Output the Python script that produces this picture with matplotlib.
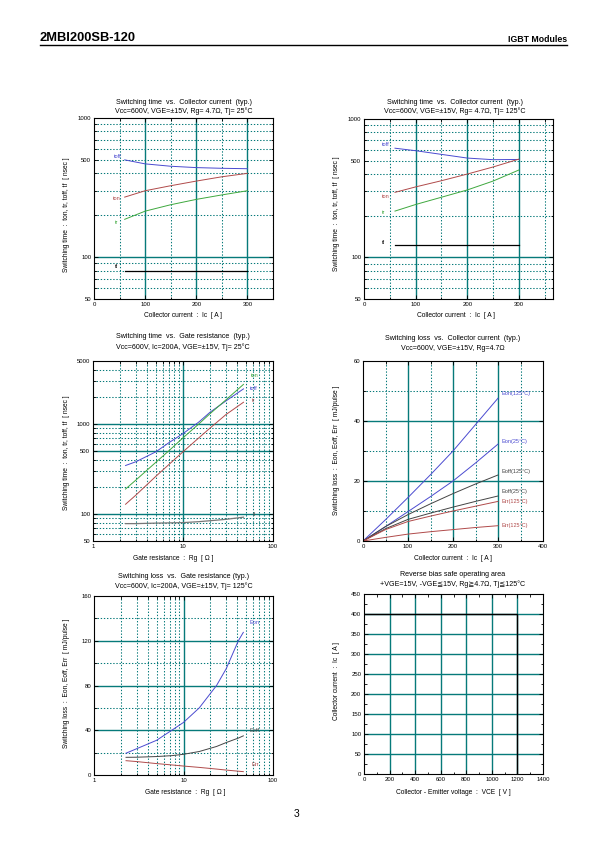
import matplotlib
matplotlib.use("Agg")
import matplotlib.pyplot as plt
from matplotlib.ticker import FixedLocator, NullFormatter

plt.rcParams['font.family'] = ['Liberation Sans', 'DejaVu Sans']

# ---------------- data ----------------
# Panel 1: switching time vs Ic, Tj=25C
ic1 = [60, 100, 150, 200, 250, 300]
toff1 = [500, 468, 450, 440, 435, 432]
ton1 = [270, 300, 326, 352, 378, 400]
tr1 = [187, 214, 238, 260, 280, 300]
tf1 = [79, 79, 79, 79, 79, 79]

# Panel 2: switching time vs Ic, Tj=125C
ic2 = [60, 100, 150, 200, 250, 300]
toff2 = [615, 590, 555, 522, 508, 510]
ton2 = [295, 323, 358, 400, 450, 513]
tr2 = [216, 241, 272, 307, 356, 428]
tf2 = [122, 122, 122, 122, 122, 122]

# Panel 3: switching time vs Rg
rg3 = [2.3, 3, 5, 7, 10, 15, 20, 30, 47]
toff3 = [345, 380, 490, 620, 780, 1050, 1350, 1800, 2450]
ton3 = [189, 238, 375, 505, 700, 1000, 1300, 1850, 2750]
tr3 = [128, 162, 262, 355, 490, 700, 900, 1270, 1740]
tf3 = [78, 78, 79, 79.5, 80, 82, 84, 87, 92]

# Panel 4: switching loss vs Ic
ic4 = [0, 50, 100, 150, 200, 250, 300]
eon125_4 = [0, 7.1, 14.5, 22.1, 30, 38.8, 47.6]
eon25_4 = [0, 4.8, 9.8, 14.8, 20, 26, 32.3]
eoff125_4 = [0, 4.8, 8.8, 12.4, 15.8, 19, 22]
eoff25_4 = [0, 4.1, 7.2, 9.3, 11.3, 13.2, 15]
err125_4 = [0, 3.8, 6.5, 8.3, 10, 11.6, 13.2]
err25_4 = [0, 1.2, 2.3, 3.1, 3.8, 4.5, 5.1]

# Panel 5: switching loss vs Rg
rg5 = [2.28, 3, 5, 7.4, 10, 15, 23.4, 30, 41, 46.6]
eon5 = [19.5, 23.5, 31, 40, 47, 60, 80, 95, 120, 127.5]
eoff5 = [15.8, 15.9, 16.5, 17.3, 18.5, 21, 25.5, 29, 33, 35]
err5 = [12.8, 12, 10.2, 9, 8, 6.8, 5.3, 4.4, 3.4, 3]

# Panel 6: RBSOA
vce6 = [0, 1200, 1200]
ic6 = [400, 400, 0]

# ---------------- styling ----------------
W, H = 595, 842
TEAL = '#067a7a'
BLUE = '#4a4ad0'
RED = '#b04a4a'
GREEN = '#3ea83e'
GRAY = '#444444'
TS = 5.1     # title size
TKS = 4.3    # tick label size
LS = 4.8     # axis label size
CS = 4.0     # curve label size
DOT = (0, (1.3, 1.7))

fig = plt.figure(figsize=(W / 100, H / 100), dpi=100)


def add_ax(l, t, r, b):
    return fig.add_axes([l / W, 1 - b / H, (r - l) / W, (b - t) / H])


def ftext(x, y, s, **kw):
    fig.text(x / W, 1 - y / H, s, **kw)


def grid(ax, xmaj, xmin, ymaj, ymin):
    for v in xmaj:
        ax.axvline(v, color=TEAL, lw=1.0, zorder=1)
    for v in xmin:
        ax.axvline(v, color=TEAL, lw=0.75, ls=DOT, zorder=1)
    for v in ymaj:
        ax.axhline(v, color=TEAL, lw=1.0, zorder=1)
    for v in ymin:
        ax.axhline(v, color=TEAL, lw=0.75, ls=DOT, zorder=1)


def style(ax, xt, xtl, yt, ytl, xminor=(), yminor=()):
    ax.set_xticks(xt)
    ax.set_xticklabels(xtl)
    ax.set_yticks(yt)
    ax.set_yticklabels(ytl)
    ax.xaxis.set_minor_locator(FixedLocator(list(xminor)))
    ax.yaxis.set_minor_locator(FixedLocator(list(yminor)))
    ax.xaxis.set_minor_formatter(NullFormatter())
    ax.yaxis.set_minor_formatter(NullFormatter())
    ax.tick_params(which='both', direction='in', top=True, right=True,
                   labelsize=TKS, pad=2, width=0.6, color='black')
    ax.tick_params(which='major', length=3)
    ax.tick_params(which='minor', length=1.8)
    for s in ax.spines.values():
        s.set_linewidth(0.8)
        s.set_color('black')
        s.set_zorder(5)


def titles(cx, y1, l1, y2, l2):
    ftext(cx, y1, l1, fontsize=TS, ha='center', va='center')
    ftext(cx, y2, l2, fontsize=TS, ha='center', va='center')


# header
ftext(40, 41, '2MBI200SB-120', fontsize=9.3, fontweight='bold',
      ha='left', va='baseline')
ftext(567, 42, 'IGBT Modules', fontsize=6.3, fontweight='bold', ha='right', va='baseline')
fig.add_artist(plt.Line2D([40 / W, 567 / W], [1 - 44.5 / H, 1 - 44.5 / H], color='black', lw=1.0))
ftext(297, 814, '3', fontsize=7.5, ha='center', va='center')

ylab_t = 'Switching time  :  ton, tr, toff, tf  [ nsec ]'
ylab_e = 'Switching loss  :  Eon, Eoff, Err  [ mJ/pulse ]'
xlab_ic = 'Collector current  :  Ic  [ A ]'
xlab_rg = 'Gate resistance  :  Rg  [ \u03a9 ]'

log_minor_50_1000 = [60, 70, 80, 90, 200, 300, 400, 600, 700, 800, 900]

# ---------------- Panel 1 ----------------
ax = add_ax(94, 118, 273, 299)
ax.set_yscale('log')
ax.set_xlim(0, 350)
ax.set_ylim(50, 1000)
grid(ax, [100, 200, 300], [50, 150, 250, 350], [100], log_minor_50_1000 + [500])
ax.plot(ic1, toff1, color=BLUE, lw=0.7, zorder=3)
ax.plot(ic1, ton1, color=RED, lw=0.7, zorder=3)
ax.plot(ic1, tr1, color=GREEN, lw=0.7, zorder=3)
ax.plot(ic1, tf1, color='black', lw=0.9, zorder=3)
style(ax, [0, 100, 200, 300], ['0', '100', '200', '300'], [50, 100, 500, 1000],
      ['50', '100', '500', '1000'], [50, 150, 250], log_minor_50_1000)
titles(183.5, 103, 'Switching time  vs.  Collector current  (typ.)',
       111.5, 'Vcc=600V, VGE=\u00b115V, Rg= 4.7\u03a9, Tj= 25\u00b0C')
ftext(183, 316, xlab_ic, fontsize=LS, ha='center', va='center')
ftext(67, 215, ylab_t, fontsize=LS, ha='center', va='center', rotation=90)
ftext(114, 156, 'toff', fontsize=CS, color=BLUE, va='center')
ftext(113, 199, 'ton', fontsize=CS, color=RED, va='center')
ftext(115, 223, 'tr', fontsize=CS, color=GREEN, va='center')
ftext(115, 266, 'tf', fontsize=CS, color='black', va='center')

# ---------------- Panel 2 ----------------
ax = add_ax(364, 119, 553, 299)
ax.set_yscale('log')
ax.set_xlim(0, 366)
ax.set_ylim(50, 1000)
grid(ax, [100, 200, 300], [50, 150, 250, 350], [100], log_minor_50_1000 + [500])
ax.plot(ic2, toff2, color=BLUE, lw=0.7, zorder=3)
ax.plot(ic2, ton2, color=RED, lw=0.7, zorder=3)
ax.plot(ic2, tr2, color=GREEN, lw=0.7, zorder=3)
ax.plot(ic2, tf2, color='black', lw=0.9, zorder=3)
style(ax, [0, 100, 200, 300], ['0', '100', '200', '300'], [50, 100, 500, 1000],
      ['50', '100', '500', '1000'], [50, 150, 250, 350], log_minor_50_1000)
titles(455, 103, 'Switching time  vs.  Collector current  (typ.)',
       111.5, 'Vcc=600V, VGE=\u00b115V, Rg= 4.7\u03a9, Tj= 125\u00b0C')
ftext(456, 316, xlab_ic, fontsize=LS, ha='center', va='center')
ftext(337, 214, ylab_t, fontsize=LS, ha='center', va='center', rotation=90)
ftext(382, 145, 'toff', fontsize=CS, color=BLUE, va='center')
ftext(382, 196, 'ton', fontsize=CS, color=RED, va='center')
ftext(382, 212, 'tr', fontsize=CS, color=GREEN, va='center')
ftext(382, 243, 'tf', fontsize=CS, color='black', va='center')

# ---------------- Panel 3 ----------------
log_x_minor = [2, 3, 4, 5, 6, 7, 8, 9, 20, 30, 40, 50, 60, 70, 80, 90]
ax = add_ax(93, 361, 273, 541)
ax.set_xscale('log')
ax.set_yscale('log')
ax.set_xlim(1, 100)
ax.set_ylim(50, 5000)
grid(ax, [10], log_x_minor, [100, 500, 1000],
     [60, 70, 80, 90, 200, 300, 400, 600, 700, 800, 900, 2000, 3000, 4000])
ax.plot(rg3, toff3, color=BLUE, lw=0.7, zorder=3)
ax.plot(rg3, ton3, color=GREEN, lw=0.7, zorder=3)
ax.plot(rg3, tr3, color=RED, lw=0.7, zorder=3)
ax.plot(rg3, tf3, color='#777777', lw=0.9, zorder=3)
style(ax, [1, 10, 100], ['1', '10', '100'], [50, 100, 500, 1000, 5000],
      ['50', '100', '500', '1000', '5000'], log_x_minor,
      [60, 70, 80, 90, 200, 300, 400, 600, 700, 800, 900, 2000, 3000, 4000])
titles(183, 337, 'Switching time  vs.  Gate resistance  (typ.)',
       347, 'Vcc=600V, Ic=200A, VGE=\u00b115V, Tj= 25\u00b0C')
ftext(173, 558, xlab_rg, fontsize=LS, ha='center', va='center')
ftext(67, 453, ylab_t, fontsize=LS, ha='center', va='center', rotation=90)
ftext(251, 376, 'ton', fontsize=CS, color=GREEN, va='center')
ftext(250, 388, 'toff', fontsize=CS, color=BLUE, va='center')
ftext(252, 400, 'tr', fontsize=CS, color=RED, va='center')
ftext(253, 514, 'tf', fontsize=CS, color='#555555', va='center')

# ---------------- Panel 4 ----------------
ax = add_ax(363, 361, 543, 541)
ax.set_xlim(0, 400)
ax.set_ylim(0, 60)
grid(ax, [100, 200, 300], [50, 150, 250, 350], [20, 40], [10, 30, 50])
ax.plot(ic4, eon125_4, color=BLUE, lw=0.7, zorder=3)
ax.plot(ic4, eon25_4, color=BLUE, lw=0.7, zorder=3)
ax.plot(ic4, eoff125_4, color=GRAY, lw=0.7, zorder=3)
ax.plot(ic4, eoff25_4, color=GRAY, lw=0.7, zorder=3)
ax.plot(ic4, err125_4, color=RED, lw=0.7, zorder=3)
ax.plot(ic4, err25_4, color=RED, lw=0.7, zorder=3)
style(ax, [0, 100, 200, 300, 400], ['0', '100', '200', '300', '400'],
      [0, 20, 40, 60], ['0', '20', '40', '60'], [50, 150, 250, 350], [10, 30, 50])
titles(453, 339, 'Switching loss  vs.  Collector current  (typ.)',
       349, 'Vcc=600V, VGE=\u00b115V, Rg=4.7\u03a9')
ftext(453, 558, xlab_ic, fontsize=LS, ha='center', va='center')
ftext(336, 450, ylab_e, fontsize=LS, ha='center', va='center', rotation=90)
ftext(501, 393, 'Eon(125\u00b0C)', fontsize=CS, color=BLUE, va='center')
ftext(501, 441, 'Eon(25\u00b0C)', fontsize=CS, color=BLUE, va='center')
ftext(501, 472, 'Eoff(125\u00b0C)', fontsize=CS, color=GRAY, va='center')
ftext(501, 491, 'Eoff(25\u00b0C)', fontsize=CS, color=GRAY, va='center')
ftext(501, 501, 'Err(125\u00b0C)', fontsize=CS, color=RED, va='center')
ftext(501, 525, 'Err(125\u00b0C)', fontsize=CS, color=RED, va='center')

# ---------------- Panel 5 ----------------
ax = add_ax(94, 596, 273, 775)
ax.set_xscale('log')
ax.set_xlim(1, 100)
ax.set_ylim(0, 160)
grid(ax, [10], log_x_minor, [40, 80, 120], [20, 60, 100, 140])
ax.plot(rg5, eon5, color=BLUE, lw=0.7, zorder=3)
ax.plot(rg5, eoff5, color=GRAY, lw=0.7, zorder=3)
ax.plot(rg5, err5, color=RED, lw=0.7, zorder=3)
style(ax, [1, 10, 100], ['1', '10', '100'], [0, 40, 80, 120, 160],
      ['0', '40', '80', '120', '160'], log_x_minor, [20, 60, 100, 140])
titles(183.5, 577, 'Switching loss  vs.  Gate resistance (typ.)',
       586, 'Vcc=600V, Ic=200A, VGE=\u00b115V, Tj= 125\u00b0C')
ftext(185, 792, xlab_rg, fontsize=LS, ha='center', va='center')
ftext(67, 683, ylab_e, fontsize=LS, ha='center', va='center', rotation=90)
ftext(249, 622, 'Eon', fontsize=CS, color=BLUE, va='center')
ftext(250, 731, 'Eoff', fontsize=CS, color=GRAY, va='center')
ftext(251, 765, 'Err', fontsize=CS, color=RED, va='center')

# ---------------- Panel 6 ----------------
ax = add_ax(364, 594, 543, 774)
ax.set_xlim(0, 1400)
ax.set_ylim(0, 450)
grid(ax, [200, 400, 600, 800, 1000, 1200], [],
     [50, 100, 150, 200, 250, 300, 350, 400], [])
ax.plot(vce6, ic6, color='black', lw=1.0, zorder=3)
style(ax, list(range(0, 1401, 200)), [str(v) for v in range(0, 1401, 200)],
      list(range(0, 451, 50)), [str(v) for v in range(0, 451, 50)],
      list(range(100, 1400, 200)), list(range(25, 450, 50)))
titles(453, 575, 'Reverse bias safe operating area',
       584, '+VGE=15V, -VGE\u226615V, Rg\u22674.7\u03a9, Tj\u2266125\u00b0C')
ftext(453, 793, 'Collector - Emitter voltage  :  VCE  [ V ]', fontsize=LS,
      ha='center', va='center')
ftext(336, 681, 'Collector current  :  Ic  [ A ]', fontsize=LS, ha='center',
      va='center', rotation=90)

fig.savefig('out.png', dpi=100)
